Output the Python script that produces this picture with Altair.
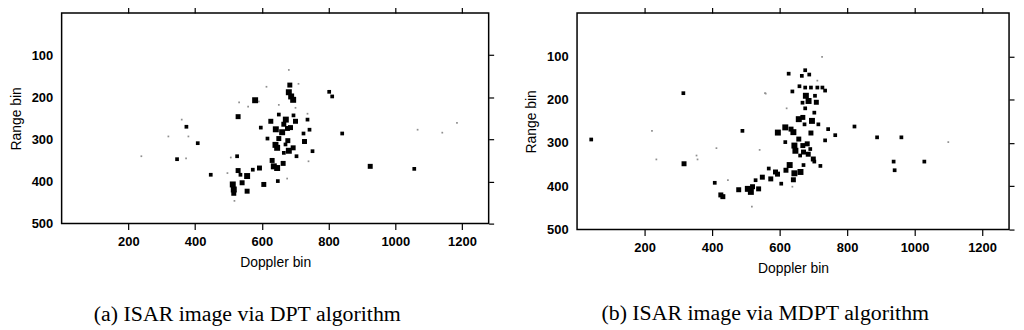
import altair as alt
import pandas as pd

# ---------------- data ----------------
# level: 1 = faint speck, 2 = small dot, 3 = medium blob, 4 = large blob
dpt_doppler = [681, 684, 710, 614, 681, 688, 694, 580, 559, 532, 591, 651, 701,
               597, 529, 627, 651, 672, 695, 701, 737, 737, 666, 686, 642, 661,
               677, 678, 671, 651, 641, 646, 617, 743, 725, 728, 752, 740, 704,
               681, 694, 666, 631, 636, 646, 664, 648, 676, 593, 573, 556, 536,
               541, 606, 513, 516, 556, 516, 529, 497, 447, 507, 526, 518, 374,
               360, 380, 320, 408, 346, 373, 239, 802, 811, 841, 925, 1057, 1067,
               1141, 1185]
dpt_range = [135, 171, 168, 175, 188, 198, 206, 207, 222, 212, 210, 218, 225,
             272, 246, 257, 241, 253, 243, 257, 239, 253, 264, 272, 276, 283,
             274, 303, 312, 298, 313, 320, 298, 277, 286, 305, 328, 352, 340,
             327, 320, 332, 350, 364, 368, 357, 399, 393, 368, 372, 387, 384,
             403, 407, 407, 419, 423, 428, 374, 380, 384, 343, 340, 446, 270,
             253, 293, 293, 309, 347, 345, 340, 187, 198, 286, 364, 370, 277,
             284, 261]
dpt_level = [1, 3, 1, 1, 4, 4, 4, 4, 1, 1, 1, 1, 1,
             2, 3, 3, 2, 4, 2, 3, 1, 2, 3, 3, 4, 4,
             3, 3, 2, 3, 4, 4, 2, 2, 2, 3, 2, 1, 2,
             4, 3, 2, 3, 4, 4, 3, 2, 1, 3, 2, 4, 2,
             3, 3, 4, 4, 3, 3, 3, 1, 2, 1, 2, 1, 2,
             1, 1, 1, 2, 2, 1, 1, 2, 2, 2, 3, 2, 1,
             1, 1]

mdpt_doppler = [42, 315, 317, 222, 235, 357, 354, 413, 408, 447, 490, 541, 557,
                426, 432, 479, 506, 515, 520, 518, 538, 529, 549, 568, 588, 594,
                574, 605, 619, 630, 644, 662, 641, 638, 595, 617, 617, 634, 641,
                657, 644, 647, 661, 669, 682, 691, 671, 685, 700, 671, 703, 721,
                657, 669, 674, 696, 693, 715, 744, 765, 735, 621, 676, 703, 678,
                686, 668, 709, 705, 676, 659, 693, 712, 727, 735, 638, 676, 666,
                688, 627, 712, 726, 559, 822, 889, 961, 938, 941, 1029, 1100]
mdpt_range = [292, 185, 348, 272, 338, 338, 329, 312, 392, 386, 272, 316, 185,
              420, 424, 408, 406, 413, 401, 447, 406, 386, 379, 359, 367, 372,
              383, 394, 363, 351, 370, 367, 385, 401, 276, 264, 298, 268, 275,
              291, 306, 318, 329, 306, 302, 314, 321, 326, 337, 351, 343, 353,
              245, 241, 257, 249, 277, 257, 268, 282, 294, 220, 220, 230, 191,
              203, 207, 206, 191, 172, 169, 172, 172, 172, 179, 181, 132, 145,
              142, 140, 156, 101, 186, 262, 287, 287, 343, 363, 343, 298]
mdpt_level = [2, 2, 3, 1, 1, 1, 1, 1, 2, 1, 2, 1, 1,
              3, 3, 3, 4, 4, 3, 1, 3, 2, 3, 2, 3, 3,
              3, 2, 3, 4, 4, 4, 3, 1, 4, 4, 2, 3, 4,
              3, 4, 4, 2, 3, 3, 2, 3, 3, 3, 2, 2, 2,
              4, 3, 2, 4, 3, 2, 2, 2, 2, 1, 2, 2, 4,
              4, 2, 3, 2, 2, 2, 2, 2, 2, 2, 2, 2, 2,
              2, 2, 1, 1, 1, 2, 2, 2, 2, 2, 2, 1]

x_ticks = [200, 400, 600, 800, 1000, 1200]
y_ticks = [100, 200, 300, 400, 500]
captions = ["(a) ISAR image via DPT algorithm", "(b) ISAR image via MDPT algorithm"]

LABEL_FONT = "Liberation Sans, Arial, sans-serif"


def panel(doppler, rng, level, w, h, caption, cap_offset):
    df = pd.DataFrame({"doppler": doppler, "range": rng, "level": level})
    xs = alt.Scale(domain=[0, 1280], nice=False, zero=False)
    ys = alt.Scale(domain=[0, 500], reverse=True, nice=False, zero=False)
    base = alt.Chart(df)
    pts = base.mark_square(filled=True, opacity=1).encode(
        x=alt.X("doppler:Q", scale=xs,
                axis=alt.Axis(orient="bottom", values=x_ticks, title="Doppler bin", format="d",
                              tickSize=6, labelPadding=6, titlePadding=7)),
        y=alt.Y("range:Q", scale=ys,
                axis=alt.Axis(orient="left", values=y_ticks, title="Range bin", format="d",
                              ticks=False, labelPadding=9, titlePadding=8)),
        size=alt.Size("level:Q", scale=alt.Scale(type="linear", domain=[1, 4], range=[3, 36]),
                      legend=None),
        color=alt.condition(alt.datum.level == 1, alt.value("#8f8f8f"), alt.value("#000000")),
    )
    ticks = base.mark_square(opacity=0).encode(
        x=alt.X("doppler:Q", scale=xs,
                axis=alt.Axis(orient="top", values=x_ticks, labels=False, title=None,
                              tickSize=6, minExtent=0, maxExtent=6)),
        y=alt.Y("range:Q", scale=ys,
                axis=alt.Axis(orient="right", values=y_ticks, labels=False, title=None,
                              tickSize=5, minExtent=0, maxExtent=5)),
    )
    return alt.layer(pts, ticks).properties(
        width=w, height=h,
        title=alt.TitleParams(caption, orient="bottom", font="Liberation Serif",
                              fontSize=22, fontWeight="normal", color="black",
                              offset=cap_offset, dx=-28),
    )


left = panel(dpt_doppler, dpt_range, dpt_level, 430, 212, captions[0], 35)
right = panel(mdpt_doppler, mdpt_range, mdpt_level, 435, 218, captions[1], 28)

chart = alt.hconcat(left, right, spacing=28).properties(
    padding={"left": 0, "top": -4, "right": 0, "bottom": 0}
).configure_view(
    stroke="black", strokeWidth=1.5
).configure_axis(
    grid=False, domain=False, tickColor="black", tickWidth=1.2,
    labelFont=LABEL_FONT, labelFontSize=13, labelFontWeight="bold", labelColor="black",
    titleFont=LABEL_FONT, titleFontSize=14, titleFontWeight="normal", titleColor="black",
)

chart.save("out.html", embed_options={"renderer": "svg", "actions": False})
